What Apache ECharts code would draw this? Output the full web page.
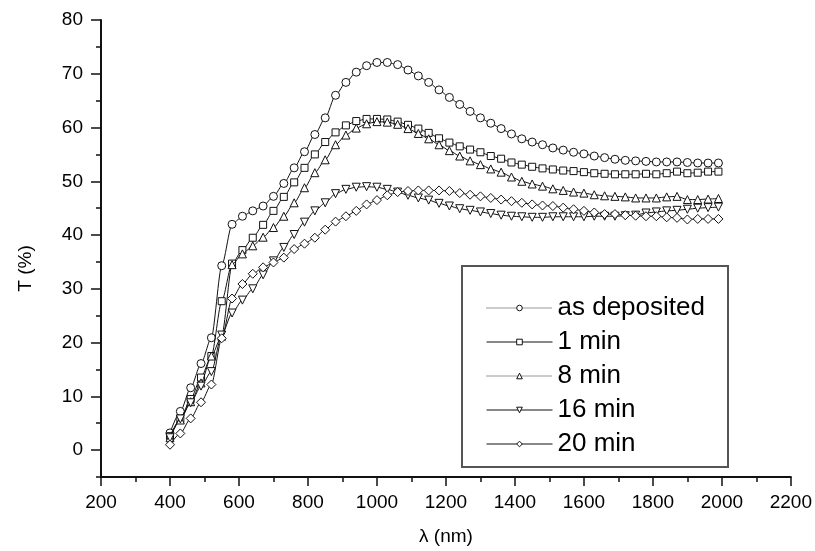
<!DOCTYPE html>
<html>
<head>
<meta charset="utf-8">
<script src="https://cdn.jsdelivr.net/npm/echarts@6/dist/echarts.min.js"></script>
<style>
html,body{margin:0;padding:0;background:#fff;}
#chart{width:815px;height:551px;}
</style>
</head>
<body>
<div id="chart"></div>
<script>
// ---- data ----
const wavelengths = [400,430,460,490,520,550,580,610,640,670,700,730,760,790,820,850,880,910,940,970,
  1000,1030,1060,1090,1120,1150,1180,1210,1240,1270,1300,1330,1360,1390,1420,1450,1480,1510,1540,1570,
  1600,1630,1660,1690,1720,1750,1780,1810,1840,1870,1900,1930,1960,1990];

const asDeposited = [3.2,7.2,11.6,16.1,20.9,34.3,42.0,43.5,44.5,45.4,47.2,49.6,52.5,55.5,58.7,61.8,66.0,68.4,70.3,71.5,
  72.1,72.1,71.7,70.7,69.6,68.4,67.0,65.6,64.3,63.0,61.8,60.8,59.8,58.8,57.9,57.3,56.8,56.2,55.8,55.4,
  55.1,54.7,54.4,54.1,53.9,53.8,53.7,53.6,53.6,53.6,53.5,53.4,53.4,53.4];

const min1 = [2.6,5.8,9.5,13.5,17.5,27.7,34.7,37.2,39.5,41.9,44.5,47.1,49.8,52.5,55.0,57.3,59.1,60.4,61.2,61.6,
  61.6,61.5,61.1,60.5,59.8,59.0,58.0,57.2,56.5,55.9,55.4,54.7,54.2,53.5,53.1,52.7,52.4,52.2,52.0,51.9,
  51.7,51.5,51.4,51.3,51.3,51.3,51.4,51.3,51.5,51.8,51.5,51.6,51.8,51.8];

const min8 = [2.3,5.6,9.0,12.5,17.5,21.2,34.5,36.5,38.0,39.6,41.4,43.5,46.0,48.8,51.6,54.0,56.8,58.6,59.9,60.7,
  61.1,61.0,60.6,59.8,58.9,57.9,56.8,55.7,54.7,53.8,53.1,52.3,51.7,50.8,50.0,49.5,49.1,48.6,48.3,48.0,
  47.8,47.5,47.3,47.2,47.1,46.9,46.9,46.9,47.1,47.2,46.6,46.6,46.7,46.8];

const min16 = [2.3,5.8,8.8,11.9,14.6,21.4,25.5,27.9,30.0,32.6,35.2,37.7,40.1,42.4,44.5,46.0,47.7,48.5,48.9,49.0,
  48.9,48.5,48.0,47.4,46.9,46.5,45.9,45.4,44.9,44.6,44.3,44.0,43.7,43.5,43.4,43.3,43.3,43.4,43.4,43.4,
  43.4,43.5,43.5,43.5,43.6,43.7,44.1,44.3,44.5,44.6,44.8,45.0,45.1,45.2];

const min20 = [1.0,3.1,5.9,8.9,12.2,20.8,28.2,30.9,32.8,34.0,34.9,35.8,37.4,38.4,39.5,41.0,42.5,43.5,44.5,45.7,
  46.5,47.4,48.0,48.2,48.3,48.3,48.3,48.2,47.8,47.5,47.2,46.9,46.6,46.3,46.0,45.7,45.5,45.4,45.1,44.8,
  44.5,44.2,43.9,43.9,43.7,43.6,43.5,43.5,43.3,43.2,42.9,43.0,43.0,43.0];

const seriesNames = ['as deposited','1 min','8 min','16 min','20 min'];
const yMajorTicks = [0,10,20,30,40,50,60,70,80];
const yMinorTicks = [-5,5,15,25,35,45,55,65,75];

// ---- chart ----
const FONT = '"Liberation Sans", Arial, sans-serif';
const chart = echarts.init(document.getElementById('chart'), null, {renderer:'canvas'});

const valuesList = [asDeposited, min1, min8, min16, min20];
const symbols = ['circle','rect','triangle','triangle','diamond'];
const rotates = [0,0,0,180,0];
const sizes = [8,7,8,8,9];

const series = valuesList.map((vals, k) => ({
  name: seriesNames[k],
  type: 'line',
  data: vals.map((v, i) => [wavelengths[i], v]),
  smooth: 0.25,
  smoothMonotone: 'x',
  symbol: symbols[k],
  symbolRotate: rotates[k],
  symbolSize: sizes[k],
  showAllSymbol: true,
  lineStyle: {color:'#111', width:1},
  itemStyle: {color:'#fff', borderColor:'#111', borderWidth:1},
  emphasis: {disabled:true},
  animation: false,
  z: 2 + k
}));

const legendLine = [
  {type:'dotted', color:'#333', width:1},
  {type:'solid', color:'#111', width:1},
  {type:'dotted', color:'#333', width:1},
  {type:'solid', color:'#111', width:1},
  {type:'solid', color:'#111', width:1}
];

chart.setOption({
  animation: false,
  backgroundColor: '#fff',
  grid: {left:101, right:24, top:20, bottom:70, containLabel:false},
  xAxis: {
    type: 'value', min: 200, max: 2200, interval: 200,
    name: 'λ (nm)', nameLocation: 'middle', nameGap: 50,
    nameTextStyle: {fontFamily: FONT, fontSize: 19, color:'#000'},
    axisLine: {show:true, onZero:false, lineStyle:{color:'#111', width:2}},
    axisTick: {show:true, inside:false, length:9, lineStyle:{color:'#111', width:1.5}},
    minorTick: {show:true, splitNumber:2, length:5, lineStyle:{color:'#111', width:1.5}},
    axisLabel: {fontFamily: FONT, fontSize: 19, color:'#000', margin: 16, formatter: v => String(v)},
    splitLine: {show:false}
  },
  yAxis: [{
    type: 'value', min: -5, max: 80,
    name: 'T (%)', nameLocation: 'middle', nameGap: 66, nameRotate: 90,
    nameTextStyle: {fontFamily: FONT, fontSize: 19, color:'#000', padding:[0,40,0,0]},
    axisLine: {show:true, onZero:false, lineStyle:{color:'#111', width:2}},
    axisTick: {show:true, inside:false, length:10, customValues: yMajorTicks, lineStyle:{color:'#111', width:1.5}},
    axisLabel: {fontFamily: FONT, fontSize: 19, color:'#000', margin: 18, customValues: yMajorTicks, formatter: v => String(v)},
    splitLine: {show:false}
  }, {
    type: 'value', min: -5, max: 80, position: 'left',
    axisLine: {show:false},
    axisTick: {show:true, inside:false, length:5, customValues: yMinorTicks, lineStyle:{color:'#111', width:1.5}},
    axisLabel: {show:false},
    splitLine: {show:false}
  }],
  legend: {
    orient: 'vertical', left: 481, top: 290,
    itemWidth: 66, itemHeight: 7, itemGap: 8,
    textStyle: {fontFamily: FONT, fontSize: 26, color:'#000'},
    data: seriesNames.map((n, k) => ({
      name: n,
      lineStyle: legendLine[k],
      itemStyle: {color:'#fff', borderColor:'#111', borderWidth:1}
    })),
    selectedMode: false
  },
  graphic: [{
    type: 'rect', left: 461, top: 265, z: 0,
    shape: {width: 266, height: 201},
    style: {fill: '#fff', stroke: '#555', lineWidth: 2}
  }],
  series: series
});
</script>
</body>
</html>
